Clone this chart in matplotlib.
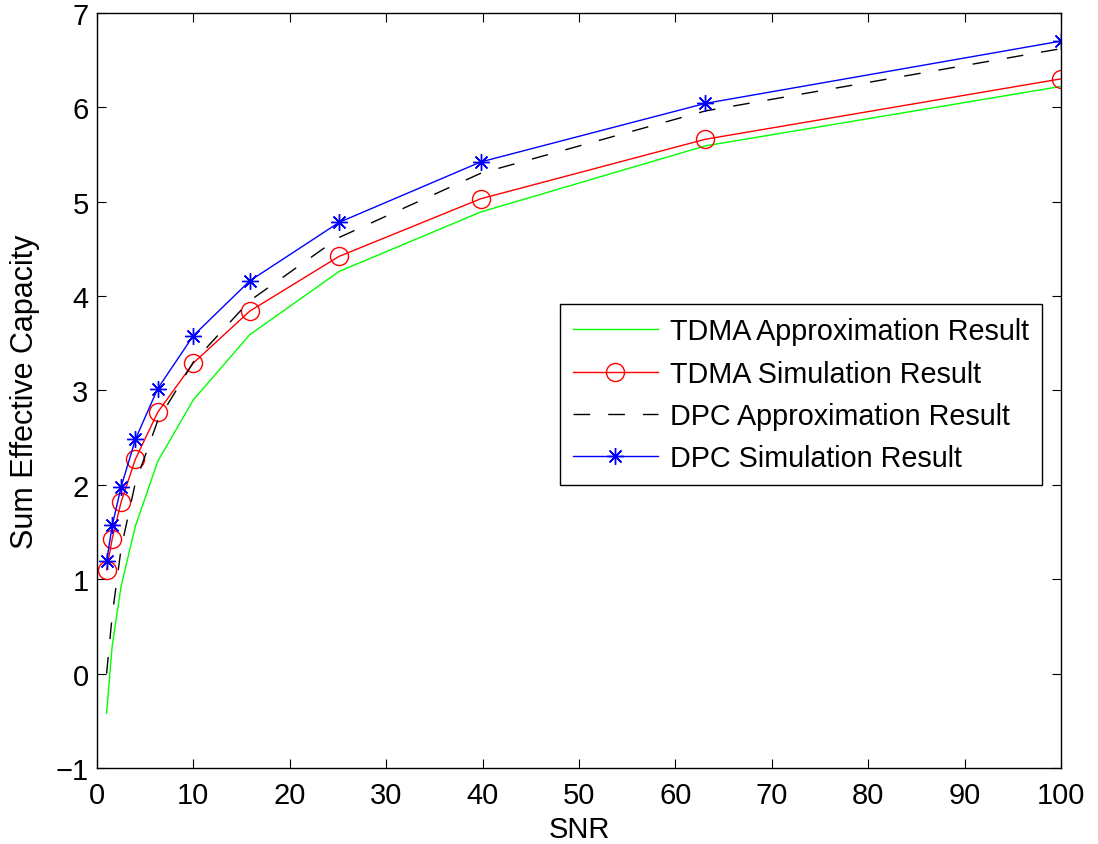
import matplotlib.pyplot as plt

plt.rcParams['font.family'] = ['Liberation Sans', 'DejaVu Sans']

# SNR points (10^(0:0.2:2))
snr = [1, 1.585, 2.512, 3.981, 6.310, 10, 15.85, 25.12, 39.81, 63.10, 100]

tdma_approx = [-0.42, 0.30, 0.93, 1.56, 2.25, 2.90, 3.59, 4.26, 4.89, 5.59, 6.22]
tdma_sim = [1.10, 1.43, 1.82, 2.27, 2.77, 3.29, 3.84, 4.42, 5.03, 5.66, 6.30]
dpc_approx = [0.00, 0.62, 1.33, 2.02, 2.68, 3.30, 3.95, 4.62, 5.30, 5.96, 6.62]
dpc_sim = [1.19, 1.57, 1.98, 2.48, 3.02, 3.58, 4.16, 4.78, 5.42, 6.04, 6.70]

fig = plt.figure(figsize=(10.98, 8.45), dpi=100)
ax = fig.add_axes([0.0883, 0.0899, 0.8780, 0.8938])

ax.plot(snr, tdma_approx, color=(0, 1, 0), lw=1.0, label='TDMA Approximation Result')
ax.plot(snr, tdma_sim, color='red', lw=1.0, marker='o', markersize=13,
        markerfacecolor='none', markeredgewidth=1.0, label='TDMA Simulation Result')
ax.plot(snr, dpc_approx, color='black', lw=1.0, dashes=(12, 13), label='DPC Approximation Result')
ax.plot(snr, dpc_sim, color='blue', lw=1.0, marker=(8, 2, 0), markersize=12,
        markeredgewidth=1.0, label='DPC Simulation Result')

ax.set_xlim(0, 100)
ax.set_ylim(-1, 7)
ax.set_xticks(range(0, 101, 10))
ax.set_yticks(range(-1, 8))
ax.tick_params(direction='in', length=6.5, width=0.8, top=True, right=True,
               labelsize=21)
ax.tick_params(axis='x', pad=9)
ax.tick_params(axis='y', pad=6)
for s in ax.spines.values():
    s.set_linewidth(1.0)

ax.set_xlabel('SNR', fontsize=21, labelpad=5)
ax.set_ylabel('Sum Effective Capacity', fontsize=22, labelpad=11)

leg = ax.legend(loc='upper right', bbox_to_anchor=(0.980, 0.614), fontsize=20.7,
                fancybox=False, framealpha=1, edgecolor='black', borderaxespad=0,
                handlelength=2.95, handletextpad=0.42, labelspacing=0.5,
                borderpad=0.45)
leg.get_frame().set_linewidth(1.0)

plt.savefig('out.png')
